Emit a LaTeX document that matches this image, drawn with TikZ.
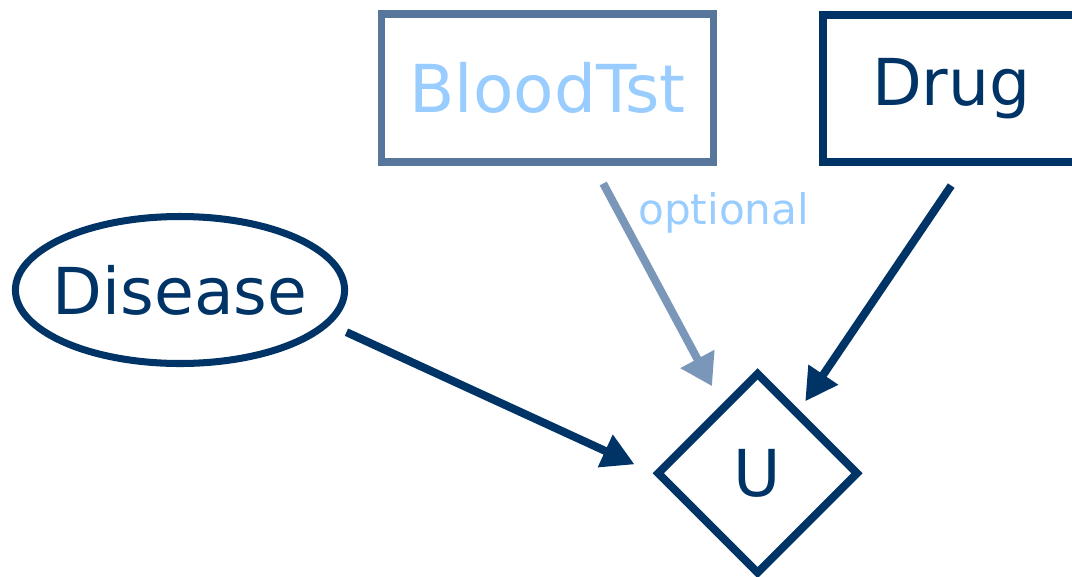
\documentclass[tikz,border=0pt]{standalone}
\usepackage{fontspec}
\setmainfont{DejaVu Sans}
\usetikzlibrary{arrows.meta,shapes.geometric,positioning,calc}

\definecolor{navy}{RGB}{0,51,102}
\definecolor{paleblue}{RGB}{153,204,255}
\definecolor{slateblue}{RGB}{88,117,156}
\definecolor{slatearr}{RGB}{122,150,184}

\begin{document}
\begin{tikzpicture}[
    chance/.style={draw=navy, ellipse, line width=5pt, inner xsep=-8pt, inner ysep=0pt, minimum width=8.23cm, minimum height=3.675cm, text=navy, font=\fontsize{46}{50}\selectfont},
    decn/.style={draw=navy, rectangle, line width=5.7pt, inner sep=0pt, minimum width=6.4cm, minimum height=3.66cm, text=navy, font=\fontsize{46}{50}\selectfont},
    optn/.style={draw=slateblue, rectangle, line width=5pt, inner sep=0pt, minimum width=8.3cm, minimum height=3.7cm, text=paleblue, font=\fontsize{47}{50}\selectfont},
    util/.style={draw=navy, diamond, line width=5.7pt, inner sep=0pt, minimum width=5.05cm, minimum height=5.05cm, text=navy, font=\fontsize{46}{50}\selectfont},
    arr/.style={draw=navy, line width=5.7pt, -{Triangle[length=23pt, width=24pt]}},
    optarr/.style={draw=slatearr, line width=5.7pt, -{Triangle[length=22pt, width=26pt]}},
    lbl/.style={text=paleblue, font=\fontsize{30}{32}\selectfont, inner sep=0pt}
]
\useasboundingbox (0,0) rectangle (26.8,-14.4);

% nodes of the decision network
\node[optn] (bt) at (13.69,-2.2) {BloodTst};
\node[decn] (drug) at (23.78,-2.21) {Drug};
\node[chance] (dis) at (4.5,-7.25) {Disease};
\node[util] (u) at (18.94,-11.83) {U};

% links into the utility node
\draw[arr, shorten <=0.45cm] (dis.-13) -- ($(u.west)+(-0.45,0.22)$);
\draw[optarr] ($(bt.south)+(1.39,-0.45)$) -- node[lbl, pos=0.12, anchor=west, xshift=0.45cm, yshift=-0.12cm] {optional} ($(u.north)+(-1.14,-0.45)$);
\draw[arr] ($(drug.south)+(0,-0.5)$) -- ($(u.north)+(1.19,-0.83)$);
\end{tikzpicture}
\end{document}
